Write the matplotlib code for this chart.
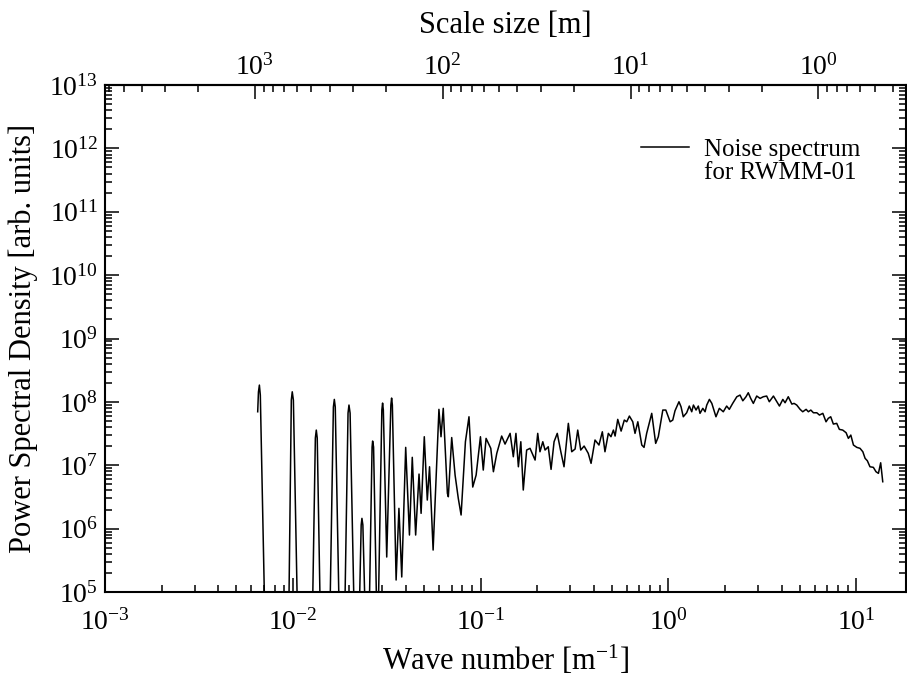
import numpy as np
import matplotlib
matplotlib.use("Agg")
import matplotlib.pyplot as plt
from matplotlib.lines import Line2D
from matplotlib.ticker import LogLocator, FixedLocator, FuncFormatter, NullFormatter

# ---- data (log10 of wave number [1/m] and of PSD) ----
log10_wavenumber = [
    -2.187, -2.183, -2.178, -2.173, -2.145,
    -2.024, -2.008, -2.003, -1.997, -1.971,
    -1.899, -1.880, -1.875, -1.870, -1.850,
    -1.806, -1.784, -1.779, -1.774, -1.749,
    -1.727, -1.706, -1.701, -1.695, -1.669,
    -1.651, -1.636, -1.632, -1.627, -1.609,
    -1.597, -1.578, -1.575, -1.570, -1.549,
    -1.526, -1.522, -1.518, -1.500,
    -1.478, -1.474, -1.470, -1.450,
    -1.435, -1.420, -1.399, -1.379, -1.364, -1.346, -1.328, -1.317, -1.300, -1.284, -1.272, -1.253,
    -1.222, -1.211, -1.199, -1.177, -1.172, -1.154, -1.136, -1.119, -1.104, -1.081,
    -1.062, -1.042, -1.024, -1.001, -0.986, -0.971, -0.946, -0.932, -0.914, -0.888,
    -0.870, -0.843, -0.826, -0.812, -0.799, -0.786, -0.773, -0.755, -0.737, -0.710,
    -0.696, -0.684, -0.669, -0.657, -0.640, -0.625, -0.609, -0.592, -0.573, -0.556,
    -0.533, -0.515, -0.497, -0.483, -0.467, -0.449, -0.427, -0.412, -0.391, -0.370,
    -0.352, -0.338, -0.320, -0.306, -0.293, -0.284, -0.270, -0.252, -0.235, -0.222,
    -0.208, -0.190, -0.178, -0.163, -0.142, -0.130, -0.116, -0.089, -0.068, -0.054,
    -0.030, -0.014, 0.009, 0.023, 0.035, 0.056, 0.067, 0.079, 0.097, 0.111,
    0.124, 0.133, 0.147, 0.159, 0.168, 0.183, 0.195, 0.204, 0.218, 0.231,
    0.253, 0.271, 0.292, 0.310, 0.324, 0.342, 0.364, 0.381, 0.396, 0.413,
    0.425, 0.438, 0.452, 0.470, 0.488, 0.505, 0.523, 0.537, 0.559, 0.577,
    0.591, 0.609, 0.621, 0.638, 0.657, 0.669, 0.683, 0.701, 0.715, 0.733,
    0.745, 0.758, 0.772, 0.790, 0.804, 0.822, 0.839, 0.851, 0.864, 0.878,
    0.896, 0.910, 0.928, 0.946, 0.958, 0.971, 0.985, 1.003, 1.020, 1.035,
    1.047, 1.059, 1.073, 1.091, 1.105, 1.118, 1.130, 1.141,
]

log10_psd = [
    7.844, 8.155, 8.265, 8.107, 4.0,
    4.0, 8.028, 8.159, 8.028, 4.0,
    4.0, 7.429, 7.555, 7.429, 4.0,
    4.0, 7.918, 8.039, 7.918, 4.0,
    4.0, 7.823, 7.950, 7.823, 4.0,
    4.0, 6.057, 6.162, 6.057, 4.0,
    4.0, 7.287, 7.382, 7.287, 4.0,
    7.871, 7.981, 7.871, 5.552,
    7.950, 8.060, 7.950, 5.189,
    6.320, 5.237, 7.282, 5.899, 7.125, 5.899, 6.861, 6.241, 7.450, 6.451, 6.976, 5.662,
    7.882, 7.450, 7.898, 6.557, 6.503, 7.437, 6.845, 6.478, 6.215, 7.371,
    7.765, 6.656, 6.845, 7.450, 6.924, 7.424, 7.267, 6.898, 7.188, 7.461,
    7.334, 7.503, 7.134, 7.503, 6.976, 7.371, 6.609, 7.240, 7.267, 7.082,
    7.503, 7.213, 7.371, 7.240, 7.292, 6.935, 7.371, 7.503, 7.213, 6.976,
    7.661, 7.213, 7.256, 7.555, 7.240, 7.303, 7.188, 7.030, 7.398, 7.319,
    7.528, 7.213, 7.503, 7.450, 7.555, 7.461, 7.724, 7.539, 7.713, 7.686,
    7.776, 7.686, 7.503, 7.686, 7.319, 7.282, 7.503, 7.819, 7.345, 7.450,
    7.871, 7.871, 7.686, 7.713, 7.860, 8.002, 7.923, 7.765, 7.828, 7.934,
    7.844, 7.950, 7.871, 7.934, 7.819, 7.898, 7.844, 7.950, 8.039, 7.976,
    7.765, 7.898, 7.844, 7.934, 7.882, 7.976, 8.081, 8.107, 8.017, 8.081,
    8.144, 8.055, 7.976, 8.092, 8.055, 8.081, 8.092, 8.002, 8.092, 8.002,
    7.934, 8.039, 7.986, 8.081, 7.965, 7.976, 7.950, 7.882, 7.844, 7.882,
    7.844, 7.871, 7.828, 7.828, 7.792, 7.819, 7.686, 7.740, 7.765, 7.650,
    7.661, 7.566, 7.555, 7.513, 7.424, 7.476, 7.319, 7.282, 7.267, 7.213,
    7.109, 7.071, 6.976, 6.967, 6.898, 6.872, 7.039, 6.740,
]

# tick values
bottom_ticks = [1e-3, 1e-2, 1e-1, 1e0, 1e1]
left_ticks = [1e5, 1e6, 1e7, 1e8, 1e9, 1e10, 1e11, 1e12, 1e13]
top_ticks = [1e3, 1e2, 1e1, 1e0]

legend_lines = ["Noise spectrum", "for RWMM-01"]
x_label = r"Wave number [m$^{\mathregular{-1}}$]"
y_label = "Power Spectral Density [arb. units]"
top_label = "Scale size [m]"

wavenumber = 10.0 ** np.array(log10_wavenumber)
psd = 10.0 ** np.array(log10_psd)

# ---- style ----
plt.rcParams["font.family"] = ["Liberation Serif", "DejaVu Serif"]
plt.rcParams["mathtext.fontset"] = "custom"
plt.rcParams["mathtext.rm"] = "Liberation Serif"
plt.rcParams["mathtext.it"] = "Liberation Serif:italic"
plt.rcParams["mathtext.bf"] = "Liberation Serif:bold"

W, H = 907, 679
fig = plt.figure(figsize=(W / 100, H / 100), dpi=100)
ax = fig.add_axes([105 / W, 87 / H, 801 / W, 507 / H])

line, = ax.plot(wavenumber, psd, color="black", lw=1.1, label=" ".join(legend_lines))

ax.set_xscale("log")
ax.set_yscale("log")
ax.set_xlim(1e-3, 18.4)
ax.set_ylim(1e5, 1e13)

def pow_fmt(v, pos):
    if v <= 0:
        return ""
    e = int(round(np.log10(v)))
    return r"$\mathregular{10^{%d}}$" % e

ax.xaxis.set_major_locator(FixedLocator(bottom_ticks))
ax.yaxis.set_major_locator(FixedLocator(left_ticks))
for axis in (ax.xaxis, ax.yaxis):
    axis.set_minor_locator(LogLocator(base=10, subs=np.arange(2, 10), numticks=300))
    axis.set_major_formatter(FuncFormatter(pow_fmt))
    axis.set_minor_formatter(NullFormatter())

TICKFS = 20
ax.tick_params(which="both", direction="in", top=False, right=True, width=1.1,
               labelsize=TICKFS, colors="black")
ax.tick_params(which="major", length=10)
ax.tick_params(which="minor", length=5)
ax.tick_params(axis="x", pad=12)
ax.tick_params(axis="y", pad=5)

for s in ax.spines.values():
    s.set_linewidth(1.5)

# top axis: scale size = 2*pi / k
def k_to_scale(k):
    k = np.asarray(k, dtype=float)
    with np.errstate(divide="ignore", invalid="ignore"):
        return 2 * np.pi / k

secax = ax.secondary_xaxis("top", functions=(k_to_scale, k_to_scale))
secax.xaxis.set_major_locator(FixedLocator(top_ticks))
secax.xaxis.set_minor_locator(LogLocator(base=10, subs=np.arange(2, 10), numticks=300))
secax.xaxis.set_major_formatter(FuncFormatter(pow_fmt))
secax.xaxis.set_minor_formatter(NullFormatter())
secax.tick_params(which="both", direction="in", width=1.1, labelsize=TICKFS, pad=3)
secax.tick_params(which="major", length=10)
secax.tick_params(which="minor", length=5)
secax.spines["top"].set_linewidth(1.5)
secax.set_xlabel(top_label, fontsize=22, labelpad=15)

ax.set_xlabel(x_label, fontsize=22, labelpad=6)
ax.set_ylabel(y_label, fontsize=22)
ax.yaxis.set_label_coords(-0.084, 0.5)

# legend: the series line, with its label on two rows (second row has no handle)
blank = Line2D([], [], linestyle="none")
leg = ax.legend([line, blank], legend_lines, loc="upper right",
                bbox_to_anchor=(0.955, 0.915), frameon=False,
                fontsize=18, handlelength=1.9, handletextpad=0.6,
                labelspacing=0.02, borderaxespad=0.0)

fig.savefig("out.png", dpi=100)
